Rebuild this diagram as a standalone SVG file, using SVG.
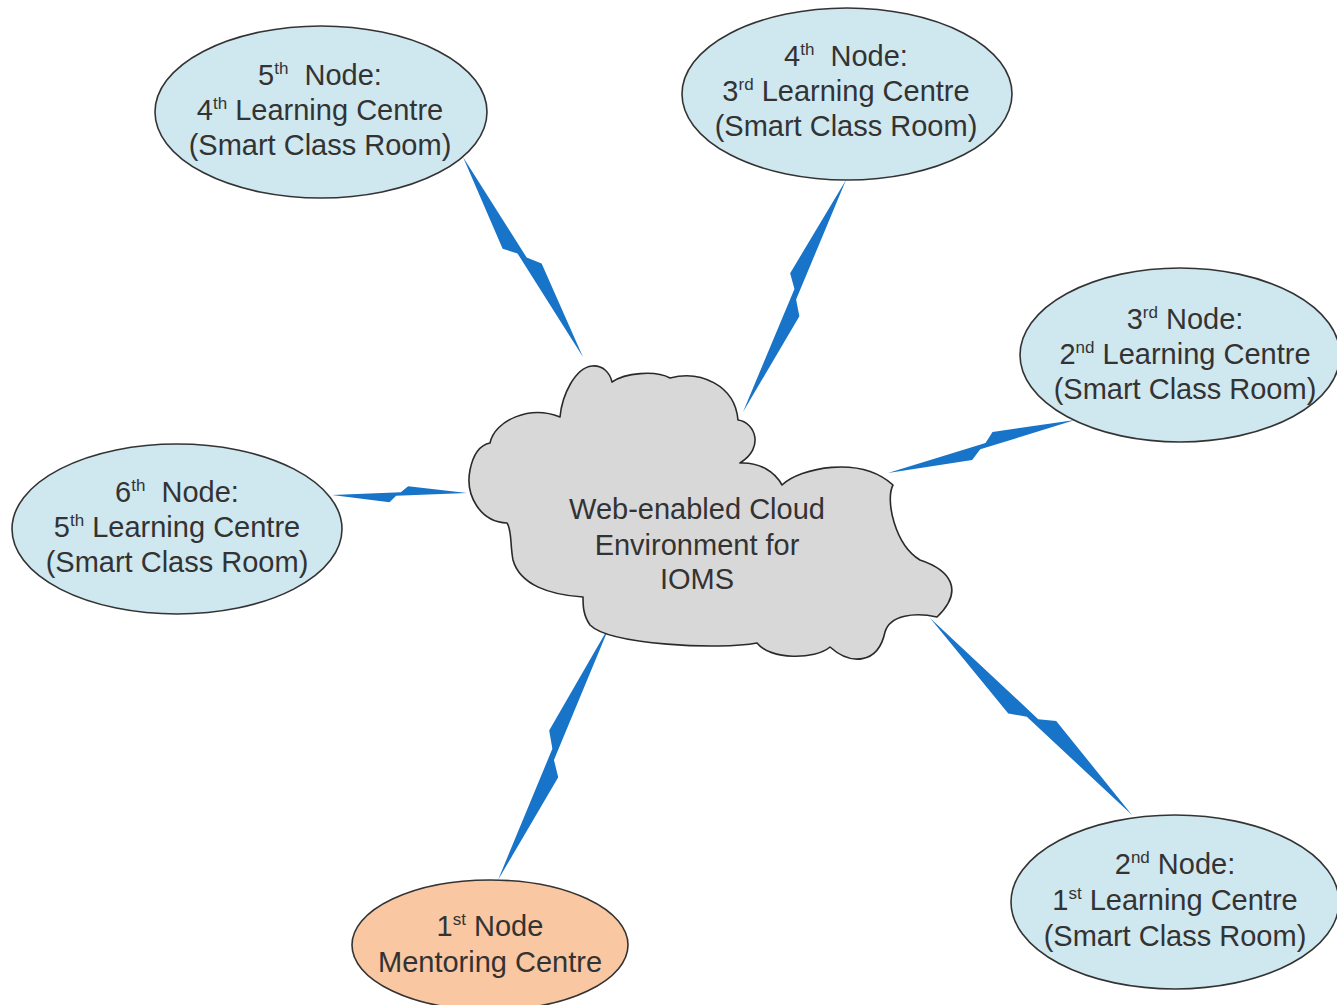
<svg xmlns="http://www.w3.org/2000/svg" width="1337" height="1005" viewBox="0 0 1337 1005">
<style>
.node{fill:#cfe7ef;stroke:#333;stroke-width:1.6}
.mentor{fill:#f9c7a2;stroke:#333;stroke-width:1.6}
.cloud{fill:#d8d8d8;stroke:#2a2a2a;stroke-width:1.6;stroke-linejoin:round}
.t{font-family:"Liberation Sans",Arial,sans-serif;font-size:29px;fill:#333;text-anchor:middle}
.bolt{fill:#1874c8}
</style>
<defs>
<path id="bolt" d="M0,0 L51,-2.5 L56.5,-11 L100,0 L47.5,2.5 L42.5,11.5 Z"/>
</defs>
<rect width="1337" height="1005" fill="#fff"/>
<g id="connectors">
<use href="#bolt" class="bolt" transform="translate(463,157) rotate(59.04) scale(2.332,1.15)"/>
<use href="#bolt" class="bolt" transform="translate(846,180) rotate(113.94) scale(2.538,1.15)"/>
<use href="#bolt" class="bolt" transform="translate(1075,420) rotate(164.18) scale(1.944,0.95)"/>
<use href="#bolt" class="bolt" transform="translate(332,495) rotate(-0.85) scale(1.35,0.7)"/>
<use href="#bolt" class="bolt" transform="translate(498,880) rotate(-66.29) scale(2.785,1.2)"/>
<use href="#bolt" class="bolt" transform="translate(1132,815) rotate(-135.7) scale(2.822,1.25)"/>
</g>
<g id="cloud">
<path class="cloud" d="M560,417 C562,395 575,368 592,366 C603,365 610,373 612,382 C625,373 655,370 670,378 C700,370 735,385 738,420 C755,422 765,448 740,463 C760,462 775,472 782,485 C800,468 860,455 893,485 C885,500 895,545 920,560 C950,570 965,590 937,617 C915,612 890,615 885,632 C878,665 850,665 830,647 C815,660 770,660 757,643 C720,650 610,645 590,625 C583,615 583,605 583,597 C550,595 520,585 513,560 C510,545 512,530 507,523 C480,522 465,495 470,470 C473,455 480,445 490,443 C495,420 530,405 560,417 Z"/>
<text class="t" x="697" y="519">Web-enabled Cloud</text>
<text class="t" x="697" y="555">Environment for</text>
<text class="t" x="697" y="589">IOMS</text>
</g>
<g id="node5">
<ellipse class="node" cx="321" cy="112" rx="166" ry="86"/>
<text class="t" x="320" y="85">5<tspan font-size="17" dy="-11">th</tspan><tspan dy="11" dx="8"> Node:</tspan></text>
<text class="t" x="320" y="120">4<tspan font-size="17" dy="-11">th</tspan><tspan dy="11"> Learning Centre</tspan></text>
<text class="t" x="320" y="155">(Smart Class Room)</text>
</g>
<g id="node4">
<ellipse class="node" cx="847" cy="94" rx="165" ry="86"/>
<text class="t" x="846" y="66">4<tspan font-size="17" dy="-11">th</tspan><tspan dy="11" dx="8"> Node:</tspan></text>
<text class="t" x="846" y="101">3<tspan font-size="17" dy="-11">rd</tspan><tspan dy="11"> Learning Centre</tspan></text>
<text class="t" x="846" y="136">(Smart Class Room)</text>
</g>
<g id="node3">
<ellipse class="node" cx="1180" cy="355" rx="160" ry="87"/>
<text class="t" x="1185" y="329">3<tspan font-size="17" dy="-11">rd</tspan><tspan dy="11"> Node:</tspan></text>
<text class="t" x="1185" y="364">2<tspan font-size="17" dy="-11">nd</tspan><tspan dy="11"> Learning Centre</tspan></text>
<text class="t" x="1185" y="399">(Smart Class Room)</text>
</g>
<g id="node6">
<ellipse class="node" cx="177" cy="529" rx="165" ry="85"/>
<text class="t" x="177" y="502">6<tspan font-size="17" dy="-11">th</tspan><tspan dy="11" dx="8"> Node:</tspan></text>
<text class="t" x="177" y="537">5<tspan font-size="17" dy="-11">th</tspan><tspan dy="11"> Learning Centre</tspan></text>
<text class="t" x="177" y="572">(Smart Class Room)</text>
</g>
<g id="node2">
<ellipse class="node" cx="1175" cy="902" rx="164" ry="87"/>
<text class="t" x="1175" y="874">2<tspan font-size="17" dy="-11">nd</tspan><tspan dy="11"> Node:</tspan></text>
<text class="t" x="1175" y="910">1<tspan font-size="17" dy="-11">st</tspan><tspan dy="11"> Learning Centre</tspan></text>
<text class="t" x="1175" y="946">(Smart Class Room)</text>
</g>
<g id="node1">
<ellipse class="mentor" cx="490" cy="945" rx="138" ry="65"/>
<text class="t" x="490" y="936">1<tspan font-size="17" dy="-11">st</tspan><tspan dy="11"> Node</tspan></text>
<text class="t" x="490" y="972">Mentoring Centre</text>
</g>
</svg>
